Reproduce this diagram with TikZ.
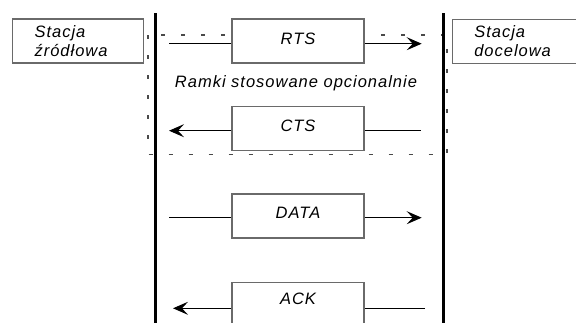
\documentclass[tikz,border=0pt]{standalone}
\usepackage{fontspec}
\newfontfamily\labfont{Liberation Sans}[LetterSpace=6.0]
\usetikzlibrary{arrows.meta}
\definecolor{boxgray}{HTML}{6A6A6A}
\definecolor{dashgray}{HTML}{4A4A4A}
\tikzset{
  lab/.style={font=\labfont\itshape\fontsize{16.5}{19}\selectfont},
  frame/.style={lab, draw=boxgray, fill=white, line width=1.2pt, minimum width=132pt,
    inner xsep=0pt, inner ysep=0pt, text height=25pt, text depth=19pt, anchor=north},
  station/.style={lab, draw=boxgray, fill=white, line width=1.2pt, anchor=north west,
    minimum width=131pt, minimum height=44pt, inner xsep=0pt, inner ysep=0pt,
    text width=131pt, align=left},
  msg/.style={draw=black, line width=1.1pt},
  msgarrow/.style={msg, -{Stealth[length=15pt,width=13pt,inset=6pt]}},
  life/.style={draw=black, line width=3pt},
  optframe/.style={draw=dashgray, line width=1.1pt, dash pattern=on 4pt off 16pt}
}
\begin{document}
\begin{tikzpicture}[x=1pt,y=-1pt]
\clip (0,0) rectangle (576,322);
\fill[white] (0,0) rectangle (576,322);
% optional frames region
\draw[optframe] (148,35) rectangle (447,154.3);
% lifelines
\coordinate (lt) at (155.7,13);
\coordinate (lb) at (155.7,330);
\coordinate (rt) at (443.5,13);
\coordinate (rb) at (443.5,330);
\draw[life] (lt) -- (lb);
\draw[life] (rt) -- (rb);
% stations
\node[station] (src) at (12,18.3) {\hspace*{22pt}Stacja\\\hspace*{22pt}źródłowa};
\node[station] (dst) at (451.7,18.8) {\hspace*{22pt}Stacja\\\hspace*{22pt}docelowa};
% frames
\node[frame, text height=26pt, text depth=18pt] (rts) at (298,18.3) {RTS};
\node[frame, text height=24.5pt, text depth=19.5pt] (cts) at (298,106) {CTS};
\node[frame] (data) at (298,193.3) {DATA};
\node[frame, text height=22pt, text depth=22pt] (ack) at (298,281.7) {ACK};
\node[lab] (note) at (296,83.3) {Ramki stosowane opcionalnie};
% message coordinates
\coordinate (rtsA) at (169,43.7);
\coordinate (rtsB) at (421.7,43.7);
\coordinate (ctsA) at (420.7,130.7);
\coordinate (ctsB) at (169,130.7);
\coordinate (dataA) at (169,217.7);
\coordinate (dataB) at (421.7,217.7);
\coordinate (ackA) at (425,308.3);
\coordinate (ackB) at (173,308.3);
% messages
\draw[msg] (rtsA) -- (rtsA -| rts.west);
\draw[msgarrow] (rtsA -| rts.east) -- (rtsB);
\draw[msg] (ctsA) -- (ctsA -| cts.east);
\draw[msgarrow] (ctsA -| cts.west) -- (ctsB);
\draw[msg] (dataA) -- (dataA -| data.west);
\draw[msgarrow] (dataA -| data.east) -- (dataB);
\draw[msg] (ackA) -- (ackA -| ack.east);
\draw[msgarrow] (ackA -| ack.west) -- (ackB);
\end{tikzpicture}
\end{document}
